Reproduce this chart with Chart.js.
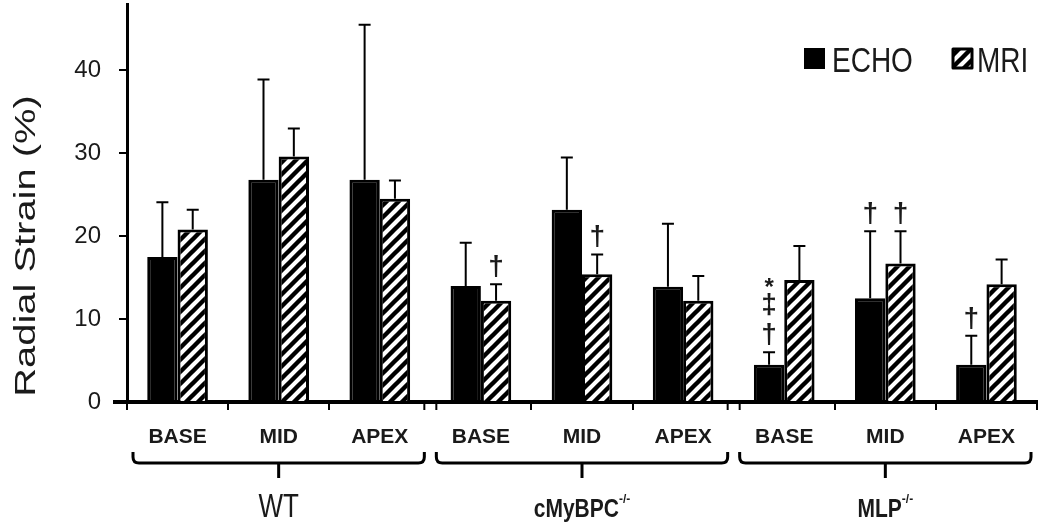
<!DOCTYPE html>
<html>
<head>
<meta charset="utf-8">
<script src="https://cdn.jsdelivr.net/npm/chart.js@4.4.0/dist/chart.umd.min.js"></script>
<style>
  html, body { margin: 0; padding: 0; background: #fff; }
  #wrap { width: 1050px; height: 530px; }
</style>
</head>
<body>
<div id="wrap"><canvas id="strainChart" width="1050" height="530"></canvas></div>
<script>
// Regions along the heart, three per mouse line
const regions = ['BASE', 'MID', 'APEX', 'BASE', 'MID', 'APEX', 'BASE', 'MID', 'APEX'];
const groupNames = ['WT', 'cMyBPC', 'MLP'];
const groupSup = ['', '-/-', '-/-'];

// Radial strain (%) and upper SD
const echoValues = [17.5, 26.8, 26.8, 14.0, 23.2, 13.9, 4.5, 12.5, 4.5];
const echoErr    = [6.6, 12.1, 18.7, 5.2, 6.3, 7.6, 1.5, 8.1, 3.5];
const mriValues  = [20.8, 29.6, 24.5, 12.2, 15.4, 12.2, 14.7, 16.7, 14.2];
const mriErr     = [2.4, 3.4, 2.2, 2.0, 2.4, 3.0, 4.1, 3.9, 3.0];

// significance marks, listed bottom -> top
const echoMarks = [[], [], [], [], [], [], ['†', '‡', '*'], ['†'], ['†']];
const mriMarks  = [[], [], [], ['†'], ['†'], [], [], ['†'], []];

const yTicks = [0, 10, 20, 30, 40];
const yMax = 48;

const TXT = '#1a1a1a';
const FONT = '"Liberation Sans", Arial, sans-serif';

const canvas = document.getElementById('strainChart');
const ctx = canvas.getContext('2d');

// diagonal hatch for the MRI bars
function makeHatch() {
    const c = document.createElement('canvas');
    c.width = 12; c.height = 12;
    const g = c.getContext('2d');
    g.fillStyle = '#fff';
    g.fillRect(0, 0, 12, 12);
    g.strokeStyle = '#000';
    g.lineWidth = 4.4;
    g.beginPath();
    g.moveTo(-3, 15); g.lineTo(15, -3);
    g.moveTo(-9, 9); g.lineTo(9, -9);
    g.moveTo(3, 21); g.lineTo(21, 3);
    g.stroke();
    return ctx.createPattern(c, 'repeat');
}
const hatch = makeHatch();

function stretchText(c, text, x, y, font, sx, sy, align) {
    c.save();
    c.translate(x, y);
    c.scale(sx, sy);
    c.font = font;
    c.textAlign = align || 'center';
    c.textBaseline = 'alphabetic';
    c.fillStyle = TXT;
    c.fillText(text, 0, 0);
    c.restore();
}

// error bars + dagger marks
const errorBars = {
    id: 'errorBars',
    afterDatasetsDraw(chart) {
        const c = chart.ctx;
        const y = chart.scales.y;
        const sets = [[echoValues, echoErr, echoMarks], [mriValues, mriErr, mriMarks]];
        c.save();
        sets.forEach(([vals, errs, marks], di) => {
            const meta = chart.getDatasetMeta(di);
            meta.data.forEach((bar, i) => {
                const x = bar.x;
                const y0 = y.getPixelForValue(vals[i]);
                const y1 = y.getPixelForValue(vals[i] + errs[i]);
                c.strokeStyle = '#000';
                c.lineWidth = 2;
                c.beginPath();
                c.moveTo(x, y0);
                c.lineTo(x, y1);
                c.moveTo(x - 6, y1);
                c.lineTo(x + 6, y1);
                c.stroke();
                let yy = y1 - 9;
                c.fillStyle = TXT;
                c.textAlign = 'center';
                c.textBaseline = 'alphabetic';
                marks[i].forEach(m => {
                    if (m === '*') {
                        c.font = 'bold 24px ' + FONT;
                        c.fillText(m, x, yy + 12);
                    } else {
                        c.font = 'bold 28px ' + FONT;
                        c.fillText(m, x, yy);
                    }
                    yy -= 30;
                });
            });
        });
        c.restore();
    }
};

// brackets, group names, legend, y title
const decorations = {
    id: 'decorations',
    afterDraw(chart) {
        const c = chart.ctx;
        const xs = chart.scales.x;
        const area = chart.chartArea;
        const catW = xs.width / regions.length;
        c.save();

        // baseline stub left of the y axis
        c.fillStyle = '#000';
        c.fillRect(113, area.bottom - 2, area.left - 113, 4);

        // axis break ticks between groups
        c.strokeStyle = '#000';
        c.lineWidth = 2;
        [3, 6].forEach(i => {
            const bx = (xs.getPixelForValue(i - 1) + xs.getPixelForValue(i)) / 2;
            c.beginPath();
            c.moveTo(bx - 6, area.bottom); c.lineTo(bx - 6, area.bottom + 8);
            c.moveTo(bx + 6, area.bottom); c.lineTo(bx + 6, area.bottom + 8);
            c.stroke();
        });

        // brackets
        c.lineWidth = 3;
        c.lineJoin = 'round';
        groupNames.forEach((name, g) => {
            const left = xs.getPixelForValue(g * 3) - catW / 2 + 6;
            const right = xs.getPixelForValue(g * 3 + 2) + catW / 2 - 6;
            const mid = (left + right) / 2;
            c.beginPath();
            c.moveTo(left, 452);
            c.lineTo(left, 457);
            c.quadraticCurveTo(left, 463, left + 6, 463);
            c.lineTo(right - 6, 463);
            c.quadraticCurveTo(right, 463, right, 457);
            c.lineTo(right, 452);
            c.moveTo(mid, 463);
            c.lineTo(mid, 478);
            c.stroke();

            // group label with optional superscript
            const big = g === 0 ? 'normal 26px ' + FONT : 'bold 21px ' + FONT;
            const sy = g === 0 ? 1.3 : 1.2;
            c.font = big;
            const w1 = c.measureText(name).width;
            c.font = 'bold 12px ' + FONT;
            const w2 = groupSup[g] ? c.measureText(groupSup[g]).width : 0;
            const start = mid - (w1 + w2) / 2;
            stretchText(c, name, start, 517, big, 1, sy, 'left');
            if (groupSup[g]) stretchText(c, groupSup[g], start + w1, 503, 'bold 12px ' + FONT, 1, 1.1, 'left');
        });

        // legend
        c.fillStyle = '#000';
        c.fillRect(804, 48, 21, 21);
        stretchText(c, 'ECHO', 832, 72, '28px ' + FONT, 1, 1.22, 'left');
        c.fillStyle = hatch;
        c.fillRect(953, 49, 19, 19);
        c.strokeStyle = '#000';
        c.lineWidth = 3;
        c.strokeRect(953, 49, 19, 19);
        stretchText(c, 'MRI', 977, 72, '28px ' + FONT, 1, 1.22, 'left');

        // y title, stretched along its length
        c.translate(35, 246);
        c.rotate(-Math.PI / 2);
        stretchText(c, 'Radial Strain (%)', 0, 0, '30px ' + FONT, 1.33, 1, 'center');
        c.restore();
    }
};

new Chart(ctx, {
    type: 'bar',
    data: {
        labels: regions,
        datasets: [{
            label: 'ECHO',
            data: echoValues,
            backgroundColor: '#000',
            borderColor: '#000',
            borderWidth: 3,
            categoryPercentage: 0.6,
            barPercentage: 1.0
        }, {
            label: 'MRI',
            data: mriValues,
            backgroundColor: hatch,
            borderColor: '#000',
            borderWidth: 3,
            categoryPercentage: 0.6,
            barPercentage: 1.0
        }]
    },
    options: {
        responsive: false,
        animation: false,
        devicePixelRatio: 1,
        layout: { padding: { left: 0, right: 13, top: 4, bottom: 0 } },
        plugins: {
            legend: { display: false },
            tooltip: { enabled: false }
        },
        scales: {
            x: {
                afterFit(s) {
                    s.height = 128;
                    s.paddingLeft = 0; s.paddingRight = 0;
                },
                border: { color: '#000', width: 4 },
                grid: {
                    drawOnChartArea: false,
                    offset: true,
                    tickLength: 8,
                    lineWidth: 2,
                    color: c => (c.index === 3 || c.index === 6) ? 'rgba(0,0,0,0)' : '#000'
                },
                ticks: {
                    color: TXT,
                    font: { family: FONT, size: 21, weight: 'bold' },
                    padding: 15,
                    maxRotation: 0
                }
            },
            y: {
                min: 0,
                max: yMax,
                afterFit(s) {
                    s.width = 127;
                    s.paddingTop = 0; s.paddingBottom = 0;
                },
                border: { color: '#000', width: 3 },
                grid: {
                    drawOnChartArea: false,
                    tickLength: 8,
                    lineWidth: 2,
                    color: '#000'
                },
                afterBuildTicks(s) { s.ticks = yTicks.map(v => ({ value: v })); },
                ticks: {
                    color: TXT,
                    font: { family: FONT, size: 24 },
                    padding: 18
                }
            }
        }
    },
    plugins: [errorBars, decorations]
});
</script>
</body>
</html>
